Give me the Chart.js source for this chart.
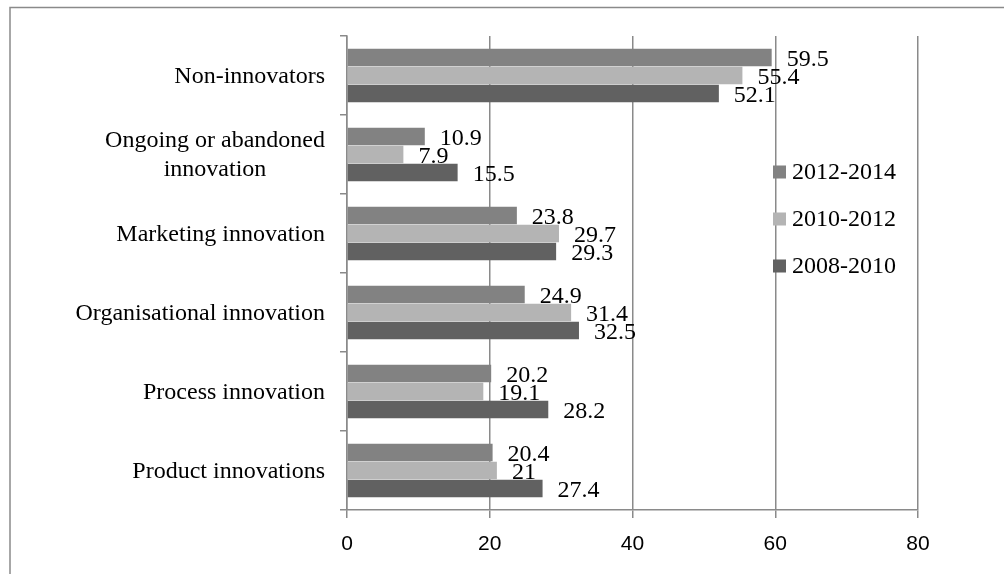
<!DOCTYPE html>
<html lang="en">
<head>
    <meta charset="UTF-8">
    <title>Innovation types</title>
    <style>
        html, body { margin: 0; padding: 0; background: #fff; }
        #chart { display: block; }
    </style>
</head>
<body>

<canvas id="chart" width="1004" height="574"></canvas>

<script src="https://cdn.jsdelivr.net/npm/chart.js@4.4.1/dist/chart.umd.min.js"></script>
<script>
    // values
    var categories = [
        ['Non-innovators'],
        ['Ongoing or abandoned', 'innovation'],
        ['Marketing innovation'],
        ['Organisational innovation'],
        ['Process innovation'],
        ['Product innovations']
    ];
    var seriesNames = ['2012-2014', '2010-2012', '2008-2010'];
    var v2012_2014 = [59.5, 10.9, 23.8, 24.9, 20.2, 20.4];
    var v2010_2012 = [55.4, 7.9, 29.7, 31.4, 19.1, 21];
    var v2008_2010 = [52.1, 15.5, 29.3, 32.5, 28.2, 27.4];
    var xTicks = [0, 20, 40, 60, 80];

    var colors = ['#828282', '#b4b4b4', '#616161'];
    var gridColor = '#8a8a8a';
    var serif = '"Liberation Serif", "Times New Roman", serif';

    // outer frame of the chart object (runs off the picture right and bottom)
    var framePlugin = {
        id: 'frame',
        beforeDraw: function (chart) {
            var c = chart.ctx;
            c.save();
            c.strokeStyle = gridColor;
            c.lineWidth = 1.5;
            c.strokeRect(10, 7.5, 1200, 800);
            c.restore();
        }
    };

    // category names, centred lines, right edge next to the tick marks
    var catLabels = {
        id: 'catLabels',
        afterDraw: function (chart) {
            var c = chart.ctx;
            var ys = chart.scales.y;
            var right = ys.right - 22;
            c.save();
            c.font = '24px ' + serif;
            c.fillStyle = '#000';
            c.textBaseline = 'middle';
            c.textAlign = 'center';
            categories.forEach(function (lines, i) {
                var w = 0;
                lines.forEach(function (l) { w = Math.max(w, c.measureText(l).width); });
                var cx = right - w / 2;
                var cy = ys.getPixelForValue(i) + 1;
                var lh = 29;
                lines.forEach(function (l, k) {
                    c.fillText(l, cx, cy + (k - (lines.length - 1) / 2) * lh);
                });
            });
            c.restore();
        }
    };

    // value labels just past the end of each bar
    var valueLabels = {
        id: 'valueLabels',
        afterDatasetsDraw: function (chart) {
            var c = chart.ctx;
            c.save();
            c.font = '24px ' + serif;
            c.fillStyle = '#000';
            c.textBaseline = 'middle';
            c.textAlign = 'left';
            chart.data.datasets.forEach(function (ds, di) {
                chart.getDatasetMeta(di).data.forEach(function (bar, i) {
                    c.fillText(String(ds.data[i]), bar.x + 15, bar.y + 2);
                });
            });
            c.restore();
        }
    };

    // legend sits inside the plot, over the 60 gridline
    var legendPlugin = {
        id: 'sideLegend',
        afterDraw: function (chart) {
            var c = chart.ctx;
            var x0 = 773;
            var ys = [172, 219, 266];
            c.save();
            c.font = '24px ' + serif;
            c.textBaseline = 'middle';
            c.textAlign = 'left';
            seriesNames.forEach(function (name, i) {
                c.fillStyle = colors[i];
                c.fillRect(x0, ys[i] - 6.5, 13, 13);
                c.fillStyle = '#000';
                c.fillText(name, x0 + 19, ys[i] + 1);
            });
            c.restore();
        }
    };

    var ctx = document.getElementById('chart').getContext('2d');
    var theChart = new Chart(ctx, {
        type: 'bar',
        data: {
            labels: categories.map(function (l) { return l.join(' '); }),
            datasets: [
                { label: seriesNames[0], data: v2012_2014, backgroundColor: colors[0] },
                { label: seriesNames[1], data: v2010_2012, backgroundColor: colors[1] },
                { label: seriesNames[2], data: v2008_2010, backgroundColor: colors[2] }
            ]
        },
        options: {
            indexAxis: 'y',
            responsive: false,
            animation: false,
            devicePixelRatio: 1,
            datasets: {
                bar: { categoryPercentage: 0.685, barPercentage: 0.97 }
            },
            layout: { padding: { top: 36, right: 86, left: 0, bottom: 0 } },
            plugins: {
                legend: { display: false },
                tooltip: { enabled: false }
            },
            scales: {
                x: {
                    min: 0,
                    max: 80,
                    afterBuildTicks: function (scale) {
                        scale.ticks = xTicks.map(function (v) { return { value: v }; });
                    },
                    afterFit: function (scale) { scale.height = 64; },
                    grid: { color: gridColor, lineWidth: 1.5, tickLength: 8 },
                    border: { color: gridColor, width: 1.5 },
                    ticks: {
                        color: '#000',
                        padding: 14,
                        font: { family: '"Liberation Sans", Arial, sans-serif', size: 21 }
                    }
                },
                y: {
                    afterFit: function (scale) { scale.width = 347; },
                    grid: { color: gridColor, lineWidth: 1.5, drawOnChartArea: false, tickLength: 7, offset: true },
                    border: { color: gridColor, width: 1.5 },
                    ticks: { display: false }
                }
            }
        },
        plugins: [framePlugin, catLabels, valueLabels, legendPlugin]
    });
</script>
</body>
</html>
